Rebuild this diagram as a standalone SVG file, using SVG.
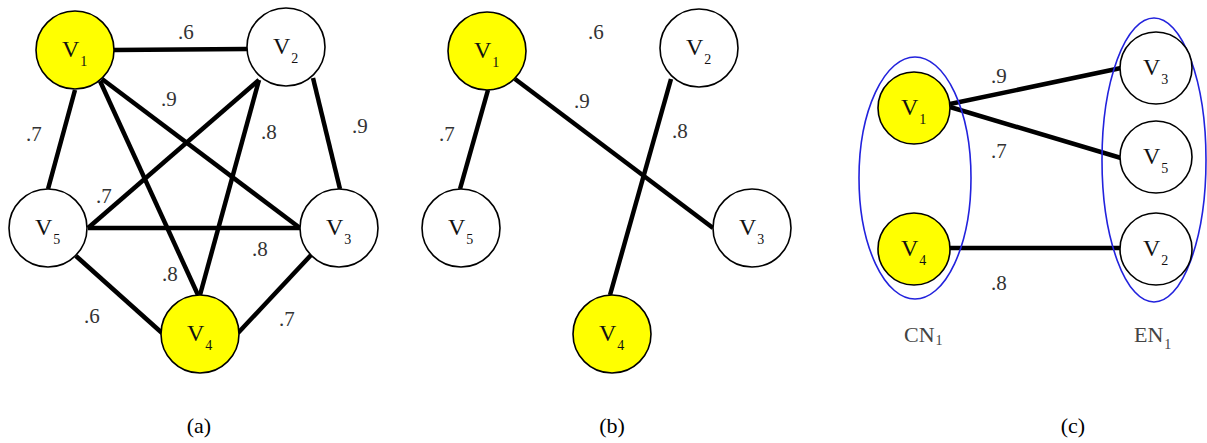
<svg xmlns="http://www.w3.org/2000/svg" width="1207" height="443" viewBox="0 0 1207 443">
<style>
text{font-family:'Liberation Serif','Times New Roman',Times,serif}
.n{stroke:#000;stroke-width:1.6}
.y{fill:#ffff00}
.w{fill:#fff}
.e{stroke:#000;stroke-width:4.5;stroke-linecap:butt;fill:none}
.nl{font-size:24px;fill:#111}
.sub{font-size:14px}
.wl{font-size:21px;fill:#333}
.cap{font-size:22px;fill:#000;text-anchor:middle}
.grp{fill:none;stroke:#2222dd;stroke-width:1.6}
.gl{font-size:22px;fill:#444}
</style>
<rect width="1207" height="443" fill="#fff"/>
<g id="connectors">
<line class="e" x1="114" y1="50" x2="247" y2="49"/>
<line class="e" x1="75" y1="90" x2="48" y2="189"/>
<line class="e" x1="100" y1="81" x2="198" y2="295"/>
<line class="e" x1="102" y1="79" x2="300" y2="228"/>
<line class="e" x1="259" y1="80" x2="88" y2="228"/>
<line class="e" x1="259" y1="80" x2="200" y2="295"/>
<line class="e" x1="313" y1="78" x2="340" y2="189"/>
<line class="e" x1="88" y1="228" x2="300" y2="228"/>
<line class="e" x1="76" y1="256" x2="162" y2="333"/>
<line class="e" x1="312" y1="254" x2="238" y2="333"/>
<line class="e" x1="488" y1="90" x2="460" y2="189"/>
<line class="e" x1="515" y1="79" x2="713" y2="228"/>
<line class="e" x1="671" y1="79" x2="610" y2="295"/>
<line class="e" x1="950" y1="104" x2="1121" y2="68"/>
<line class="e" x1="950" y1="107" x2="1121" y2="158"/>
<line class="e" x1="950" y1="248" x2="1121" y2="248"/>
</g>
<g id="labels">
<text class="wl" x="178" y="39">.6</text>
<text class="wl" x="161" y="106">.9</text>
<text class="wl" x="26" y="141">.7</text>
<text class="wl" x="261" y="139">.8</text>
<text class="wl" x="352" y="133">.9</text>
<text class="wl" x="96" y="203">.7</text>
<text class="wl" x="252" y="256">.8</text>
<text class="wl" x="162" y="281">.8</text>
<text class="wl" x="84" y="323">.6</text>
<text class="wl" x="279" y="326">.7</text>
<text class="wl" x="588" y="39">.6</text>
<text class="wl" x="574" y="108">.9</text>
<text class="wl" x="439" y="141">.7</text>
<text class="wl" x="672" y="138">.8</text>
<text class="wl" x="991" y="83">.9</text>
<text class="wl" x="991" y="158">.7</text>
<text class="wl" x="991" y="290">.8</text>
</g>
<g id="group-CN1">
<ellipse class="grp" cx="915" cy="178" rx="56" ry="121"/>
<text class="gl" x="904" y="342">CN<tspan font-size="14" dx="1" dy="3">1</tspan></text>
</g>
<g id="group-EN1">
<ellipse class="grp" cx="1154" cy="160" rx="52" ry="142"/>
<text class="gl" x="1134" y="342">EN<tspan font-size="14" dx="1" dy="7">1</tspan></text>
</g>
<g id="a-V1"><circle class="n y" cx="75" cy="50" r="39"/><text class="nl" x="62" y="57">V<tspan class="sub" dx="1" dy="9">1</tspan></text></g>
<g id="a-V2"><circle class="n w" cx="286" cy="47" r="39"/><text class="nl" x="273" y="54">V<tspan class="sub" dx="1" dy="9">2</tspan></text></g>
<g id="a-V5"><circle class="n w" cx="48" cy="228" r="39"/><text class="nl" x="35" y="235">V<tspan class="sub" dx="1" dy="9">5</tspan></text></g>
<g id="a-V3"><circle class="n w" cx="339" cy="228" r="39"/><text class="nl" x="326" y="235">V<tspan class="sub" dx="1" dy="9">3</tspan></text></g>
<g id="a-V4"><circle class="n y" cx="200" cy="334" r="39"/><text class="nl" x="187" y="341">V<tspan class="sub" dx="1" dy="9">4</tspan></text></g>
<g id="b-V1"><circle class="n y" cx="487" cy="51" r="39"/><text class="nl" x="474" y="58">V<tspan class="sub" dx="1" dy="9">1</tspan></text></g>
<g id="b-V2"><circle class="n w" cx="699" cy="48" r="39"/><text class="nl" x="686" y="55">V<tspan class="sub" dx="1" dy="9">2</tspan></text></g>
<g id="b-V5"><circle class="n w" cx="461" cy="228" r="39"/><text class="nl" x="448" y="235">V<tspan class="sub" dx="1" dy="9">5</tspan></text></g>
<g id="b-V3"><circle class="n w" cx="752" cy="228" r="39"/><text class="nl" x="739" y="235">V<tspan class="sub" dx="1" dy="9">3</tspan></text></g>
<g id="b-V4"><circle class="n y" cx="612" cy="334" r="39"/><text class="nl" x="599" y="341">V<tspan class="sub" dx="1" dy="9">4</tspan></text></g>
<g id="c-V1"><circle class="n y" cx="914" cy="108" r="36"/><text class="nl" x="901" y="115">V<tspan class="sub" dx="1" dy="9">1</tspan></text></g>
<g id="c-V4"><circle class="n y" cx="914" cy="249" r="36"/><text class="nl" x="901" y="256">V<tspan class="sub" dx="1" dy="9">4</tspan></text></g>
<g id="c-V3"><circle class="n w" cx="1156" cy="68" r="36"/><text class="nl" x="1143" y="75">V<tspan class="sub" dx="1" dy="9">3</tspan></text></g>
<g id="c-V5"><circle class="n w" cx="1156" cy="157" r="36"/><text class="nl" x="1143" y="164">V<tspan class="sub" dx="1" dy="9">5</tspan></text></g>
<g id="c-V2"><circle class="n w" cx="1156" cy="249" r="36"/><text class="nl" x="1143" y="256">V<tspan class="sub" dx="1" dy="9">2</tspan></text></g>
<g id="captions">
<text class="cap" x="199" y="433">(a)</text>
<text class="cap" x="612" y="433">(b)</text>
<text class="cap" x="1073" y="433">(c)</text>
</g>
</svg>
